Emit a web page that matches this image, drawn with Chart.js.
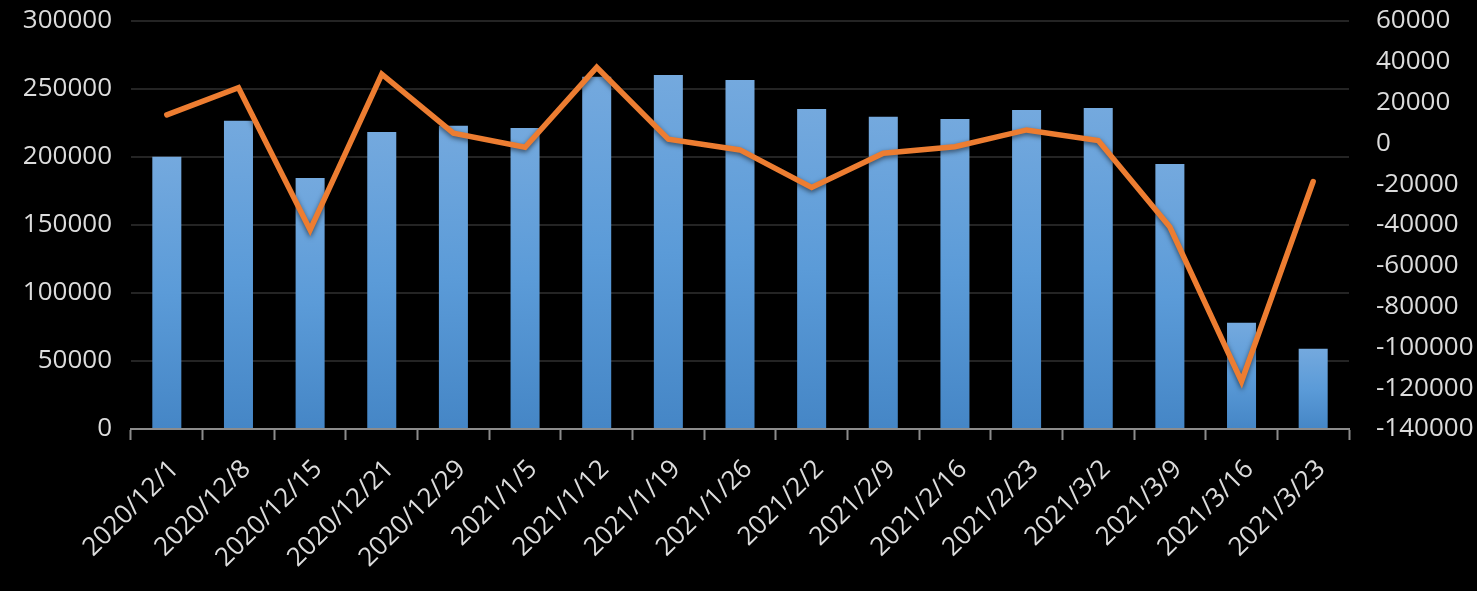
<!DOCTYPE html>
<html>
<head>
<meta charset="utf-8">
<script src="https://cdn.jsdelivr.net/npm/chart.js@4.4.1/dist/chart.umd.min.js"></script>
<style>
  html, body { margin: 0; padding: 0; background: #000; }
  #wrap { width: 1477px; height: 591px; }
</style>
</head>
<body>
<div id="wrap"><canvas id="myChart" width="1477" height="591"></canvas></div>
<script>
const labels = ['2020/12/1', '2020/12/8', '2020/12/15', '2020/12/21', '2020/12/29', '2021/1/5', '2021/1/12', '2021/1/19', '2021/1/26', '2021/2/2', '2021/2/9', '2021/2/16', '2021/2/23', '2021/3/2', '2021/3/9', '2021/3/16', '2021/3/23'];
const barValues = [200100, 226700, 184600, 218400, 222900, 221400, 259000, 260300, 256600, 235300, 229600, 228000, 234600, 236100, 194900, 78100, 59000];
const lineValues = [14000, 27300, -42400, 33900, 5000, -1900, 37300, 2100, -3200, -21600, -4800, -1600, 6600, 1400, -41000, -116700, -18700];

const leftTicks = { min: 0, max: 300000, step: 50000 };
const rightTicks = { min: -140000, max: 60000, step: 20000 };

const textColor = '#dcdcdc';
const tickFont = { family: '"Open Sans", "Noto Sans", sans-serif', size: 26 };

function barGradient(c) {
    const chart = c.chart;
    const y = chart.scales.y;
    if (!y || c.dataIndex === undefined) return '#5b9bd5';
    const top = y.getPixelForValue(barValues[c.dataIndex]);
    const bottom = y.getPixelForValue(0);
    if (!isFinite(top) || !isFinite(bottom) || top === bottom) return '#5b9bd5';
    const g = chart.ctx.createLinearGradient(0, top, 0, bottom);
    g.addColorStop(0, '#74a9de');
    g.addColorStop(0.5, '#5b9bd8');
    g.addColorStop(1, '#4586c6');
    return g;
}

// soft shadow under the orange line
const lineShadow = {
    id: 'lineShadow',
    beforeDatasetDraw(chart, args) {
        if (args.index !== 1) return;
        chart.ctx.save();
        chart.ctx.shadowColor = 'rgba(0,0,0,0.55)';
        chart.ctx.shadowBlur = 5;
        chart.ctx.shadowOffsetY = 2;
    },
    afterDatasetDraw(chart, args) {
        if (args.index !== 1) return;
        chart.ctx.restore();
    }
};

const plainNumber = (v) => String(v);

// fixed axis sizes so the plot area lands where the original one is
function fixSide(width) {
    return (scale) => {
        scale.width = width;
        scale.paddingTop = 0;
        scale.paddingBottom = 0;
    };
}

const ctx = document.getElementById('myChart').getContext('2d');
const myChart = new Chart(ctx, {
    type: 'bar',
    data: {
        labels: labels,
        datasets: [{
            type: 'bar',
            label: 'bars',
            data: barValues,
            yAxisID: 'y',
            backgroundColor: barGradient,
            borderWidth: 0,
            categoryPercentage: 1,
            barPercentage: 0.405,
            order: 2
        }, {
            type: 'line',
            label: 'line',
            data: lineValues,
            yAxisID: 'y1',
            borderColor: '#ed7d31',
            borderWidth: 5.5,
            borderCapStyle: 'round',
            borderJoinStyle: 'miter',
            pointRadius: 0,
            tension: 0,
            order: 1
        }]
    },
    options: {
        responsive: false,
        animation: false,
        layout: { padding: { top: 21, left: 0, right: 0, bottom: 0 } },
        plugins: {
            legend: { display: false },
            tooltip: { enabled: false }
        },
        scales: {
            x: {
                offset: true,
                grid: {
                    offset: true,
                    drawOnChartArea: false,
                    drawTicks: true,
                    tickLength: 11,
                    tickWidth: 2,
                    color: '#8c8c8c'
                },
                border: { display: true, color: '#8c8c8c', width: 2 },
                ticks: {
                    color: textColor,
                    font: tickFont,
                    minRotation: 45,
                    maxRotation: 45,
                    autoSkip: false,
                    padding: 14,
                    labelOffset: 8
                },
                afterFit(scale) { scale.height = 162; }
            },
            y: {
                position: 'left',
                min: leftTicks.min,
                max: leftTicks.max,
                grid: { color: '#242424', lineWidth: 2, drawTicks: false },
                border: { display: false },
                ticks: {
                    stepSize: leftTicks.step,
                    color: textColor,
                    font: tickFont,
                    padding: 19,
                    callback: plainNumber
                },
                afterFit: fixSide(131)
            },
            y1: {
                position: 'right',
                min: rightTicks.min,
                max: rightTicks.max,
                grid: { display: false, drawOnChartArea: false },
                border: { display: false },
                ticks: {
                    stepSize: rightTicks.step,
                    color: textColor,
                    font: tickFont,
                    padding: 19,
                    callback: plainNumber
                },
                afterFit: fixSide(128)
            }
        }
    },
    plugins: [lineShadow]
});
</script>
</body>
</html>
